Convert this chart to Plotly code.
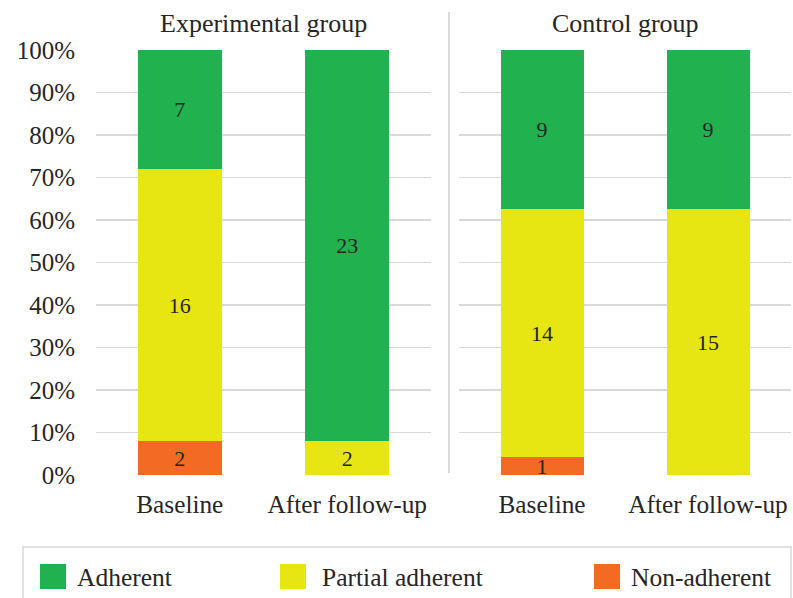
import plotly.graph_objects as go

# ---- data ----
groups = ["Experimental group", "Control group"]
timepoints = ["Baseline", "After follow-up"]
series_names = ["Non-adherent", "Partial adherent", "Adherent"]
exp_non = [2, 0]
exp_partial = [16, 2]
exp_adherent = [7, 23]
ctl_non = [1, 0]
ctl_partial = [14, 15]
ctl_adherent = [9, 9]
y_tick_vals = [0, 10, 20, 30, 40, 50, 60, 70, 80, 90, 100]
y_tick_text = ["0%", "10%", "20%", "30%", "40%", "50%", "60%", "70%", "80%", "90%", "100%"]

colors = {"Non-adherent": "#F36A22", "Partial adherent": "#E8E612", "Adherent": "#22B14F"}
FONT = "Liberation Serif, Times New Roman, serif"
TXT = "#262626"
GRID = "#D9D9D9"
W, H = 793, 598

def px(x):
    return x / W

def py(y):
    return (H - y) / H

fig = go.Figure()
panel_data = [
    ("x", "y", [exp_non, exp_partial, exp_adherent]),
    ("x2", "y2", [ctl_non, ctl_partial, ctl_adherent]),
]
for xa, ya, vals in panel_data:
    for name, v in zip(series_names, vals):
        fig.add_trace(go.Bar(
            x=timepoints, y=v, name=name, xaxis=xa, yaxis=ya,
            marker=dict(color=colors[name], line=dict(width=0)),
            text=[str(t) if t else "" for t in v],
            textposition="inside", insidetextanchor="middle", textangle=0,
            textfont=dict(family=FONT, size=22, color=TXT),
            showlegend=False, hoverinfo="skip",
        ))

y_common = dict(range=[0, 100], tickvals=y_tick_vals, showgrid=True, gridcolor=GRID,
                gridwidth=1.5, zeroline=False, showline=False, automargin=False,
                domain=[py(475), py(50)])
x_common = dict(showgrid=False, zeroline=False, showline=False, ticks="", automargin=False,
                tickfont=dict(family=FONT, size=25.3, color=TXT), ticklabelstandoff=12)

fig.update_layout(
    width=W, height=H,
    margin=dict(l=0, r=0, t=0, b=0),
    paper_bgcolor="white", plot_bgcolor="white",
    barmode="stack", barnorm="percent", bargap=0.5,
    xaxis=dict(domain=[px(96), px(431)], anchor="y", **x_common),
    xaxis2=dict(domain=[px(459), px(791)], anchor="y2", **x_common),
    yaxis=dict(anchor="x", ticktext=y_tick_text, ticklabelstandoff=20,
               tickfont=dict(family=FONT, size=25, color=TXT), **y_common),
    yaxis2=dict(anchor="x2", showticklabels=False, **y_common),
    uniformtext=dict(minsize=22, mode="show"),
    showlegend=False,
)

# panel titles
fig.add_annotation(x=(px(96) + px(431)) / 2, y=py(24), xref="paper", yref="paper",
                   text=groups[0], showarrow=False, xanchor="center", yanchor="middle",
                   font=dict(family=FONT, size=26, color=TXT))
fig.add_annotation(x=(px(459) + px(791)) / 2, y=py(24), xref="paper", yref="paper",
                   text=groups[1], showarrow=False, xanchor="center", yanchor="middle",
                   font=dict(family=FONT, size=26, color=TXT))

# divider
fig.add_shape(type="line", xref="paper", yref="paper", x0=px(449), x1=px(449),
              y0=py(473), y1=py(12), line=dict(color=GRID, width=2))

# legend box
fig.add_shape(type="rect", xref="paper", yref="paper", x0=px(23), x1=px(791),
              y0=py(610), y1=py(547), line=dict(color=GRID, width=1.5))
legend_items = [("Adherent", 40, 75), ("Partial adherent", 280, 320), ("Non-adherent", 594, 629)]
for name, sx, tx in legend_items:
    fig.add_shape(type="rect", xref="paper", yref="paper", x0=px(sx), x1=px(sx + 26),
                  y0=py(589), y1=py(564), line=dict(width=0), fillcolor=colors[name])
    fig.add_annotation(x=px(tx), y=py(577), xref="paper", yref="paper", text=name,
                       showarrow=False, xanchor="left", yanchor="middle",
                       font=dict(family=FONT, size=25.5, color=TXT))

fig.write_html(
    "out.html",
    config={"displayModeBar": False, "staticPlot": True},
    post_script="document.body.style.margin='0';document.body.style.overflow='hidden';",
)
